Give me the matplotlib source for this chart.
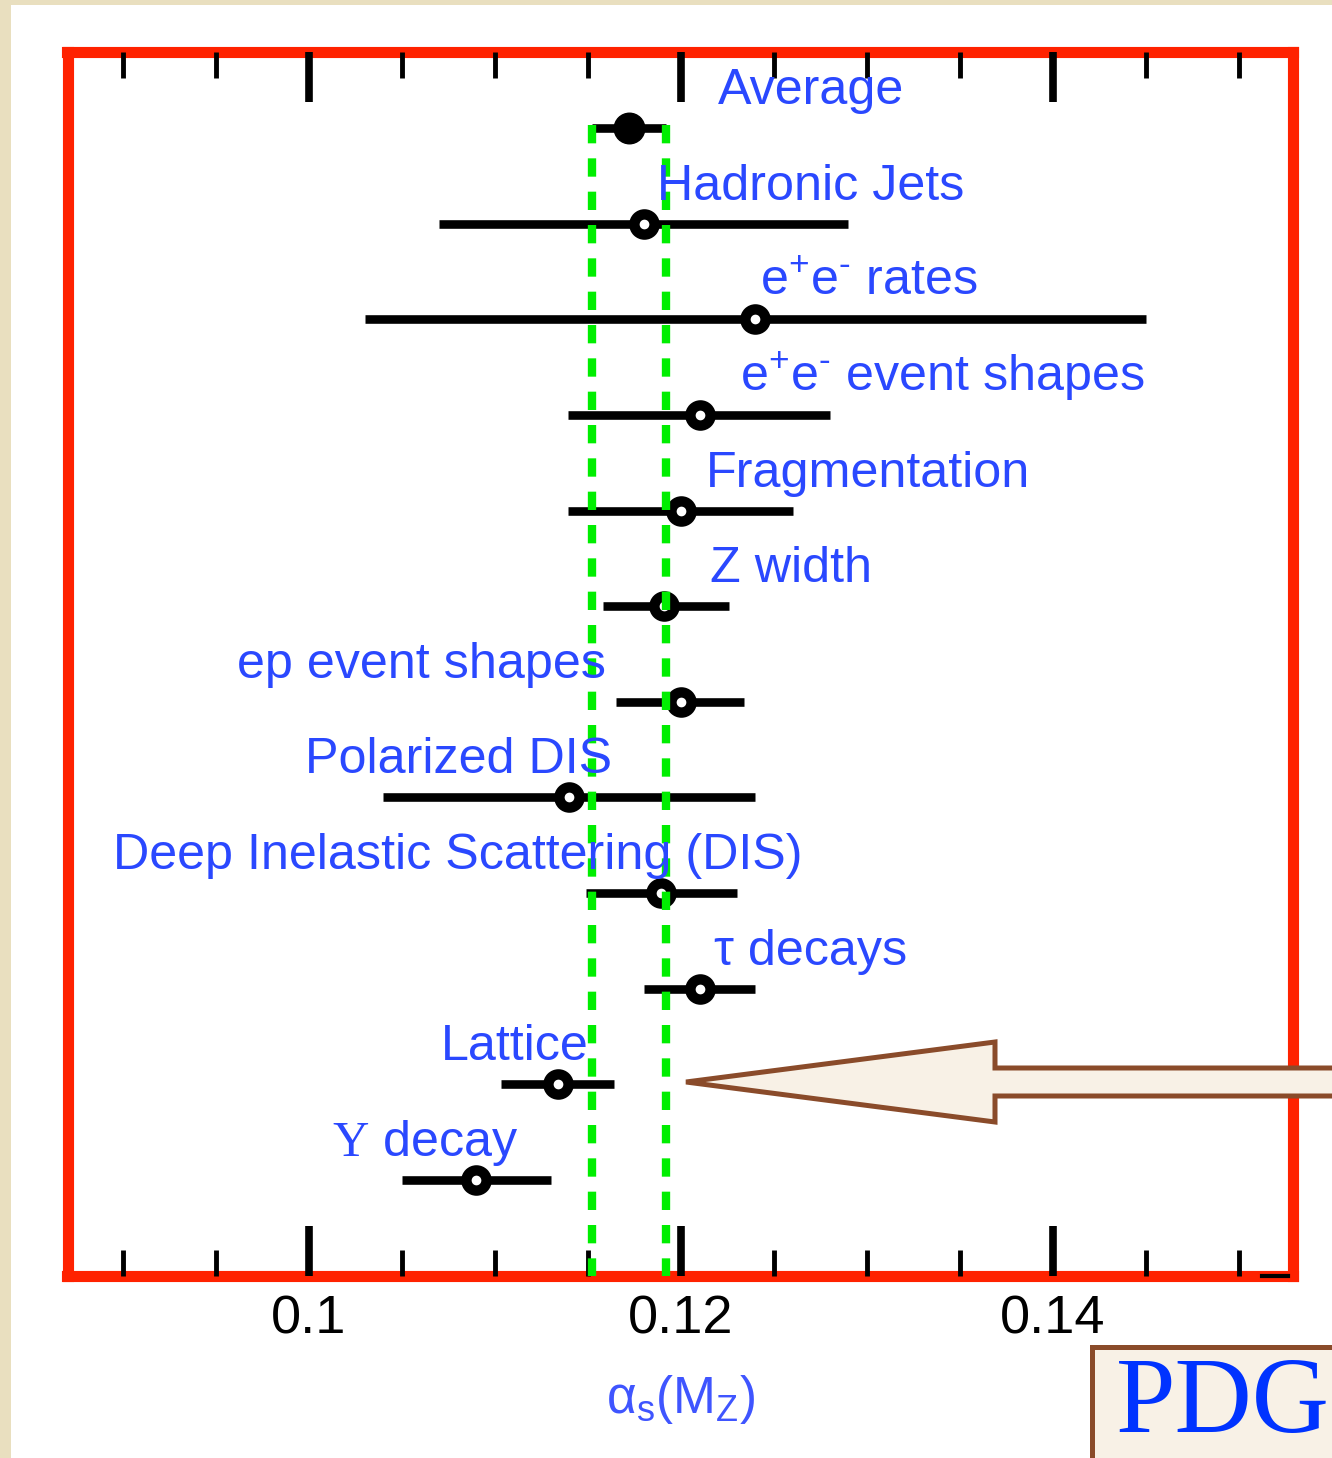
import numpy as np
import matplotlib.pyplot as plt
from matplotlib.patches import Polygon, Rectangle

# alpha_s(M_Z) の測定まとめ
labels = ['Average', 'Hadronic Jets', r'$\mathsf{e^{+}e^{‐}}$ rates',
          r'$\mathsf{e^{+}e^{‐}}$ event shapes', 'Fragmentation', 'Z width',
          'ep event shapes', 'Polarized DIS', 'Deep Inelastic Scattering (DIS)',
          'τ decays', 'Lattice', r'$\mathrm{Υ}$ decay']
central = [0.1172, 0.1180, 0.1240, 0.1210, 0.1200, 0.1191,
           0.1200, 0.1140, 0.1189, 0.1210, 0.1134, 0.1090]
err_lo = [0.1152, 0.1070, 0.1030, 0.1139, 0.1139, 0.1158,
          0.1165, 0.1040, 0.1149, 0.1180, 0.1103, 0.1050]
err_hi = [0.1192, 0.1290, 0.1450, 0.1280, 0.1260, 0.1226,
          0.1234, 0.1240, 0.1230, 0.1240, 0.1164, 0.1130]
# ラベルの左端位置（alpha_s の値）
label_x = [0.12199, 0.11871, 0.12425, 0.12317, 0.12134, 0.12156,
           0.09613, 0.09978, 0.08946, 0.12177, 0.10710, 0.10124]

W, H = 1332, 1458
plt.rcParams['font.family'] = ['Liberation Sans', 'DejaVu Sans']
plt.rcParams['mathtext.fontset'] = 'custom'
plt.rcParams['mathtext.rm'] = 'Liberation Serif'
plt.rcParams['mathtext.sf'] = 'Liberation Sans'
plt.rcParams['mathtext.it'] = 'Liberation Sans:italic'

fig = plt.figure(figsize=(W / 100, H / 100), dpi=100)
fig.patch.set_facecolor('white')

def fpx(x, y):
    return (x / W, 1 - y / H)

# 背景の端（ベージュ）
fig.patches.append(Rectangle((0, 0), 11 / W, 1, transform=fig.transFigure,
                             facecolor='#e9dfbf', edgecolor='none', zorder=0))
fig.patches.append(Rectangle((0, 1 - 5 / H), 1, 5 / H, transform=fig.transFigure,
                             facecolor='#e9dfbf', edgecolor='none', zorder=0))

ax = fig.add_axes([67.5 / W, 1 - 1275.5 / H, (1293 - 67.5) / W, (1275.5 - 51.5) / H])
ax.set_xlim(0.087016, 0.152903)
ax.set_ylim(12.0, -0.80)

red = '#ff2200'
for s in ax.spines.values():
    s.set_color(red)
    s.set_linewidth(8)

y = np.arange(len(labels))
band_lo, band_hi = err_lo[0], err_hi[0]

# 誤差棒
ax.hlines(y, err_lo, err_hi, color='black', linewidth=6.2, zorder=3)
ax.plot(central[1:], y[1:], 'o', ms=14.5, mew=7.5, mfc='white', mec='black', zorder=4)
ax.plot(central[:1], y[:1], 'o', ms=22, mfc='black', mec='black', zorder=4)

# 平均の帯
for xv in (band_lo, band_hi):
    ax.plot([xv, xv], [-0.03, 12.0], color='#00ee00', linewidth=6,
            dashes=(2.2, 1.8), zorder=5, clip_on=False)

blue = '#2a48ff'
for i, (lab, lx) in enumerate(zip(labels, label_x)):
    ax.text(lx, i - 0.25, lab, color=blue, fontsize=36.2, ha='left', va='baseline', zorder=6)

# 目盛り
ax.set_xticks([0.10, 0.12, 0.14])
ax.set_xticklabels(['0.1', '0.12', '0.14'])
ax.set_xticks(np.arange(0.09, 0.1525, 0.005), minor=True)
ax.tick_params(axis='x', which='major', direction='in', top=True, bottom=True,
               length=36, width=5.5, color='black', labelsize=39, pad=14)
ax.tick_params(axis='x', which='minor', direction='in', top=True, bottom=True,
               length=19, width=3.5, color='black')
ax.set_yticks([])
ax.set_axisbelow(False)

# 右下の小さな線
ax.plot([0.15125, 0.15265], [12.0, 12.0], color='black', linewidth=3, zorder=6, clip_on=False)

ax.set_xlabel(r'$\mathsf{α_s(M_Z)}$', color='#3f55ff', fontsize=37, labelpad=20)

# 矢印（Lattice を指す）
arrow_pts = [fpx(686, 1082), fpx(995, 1042), fpx(995, 1068), fpx(1345, 1068),
             fpx(1345, 1096), fpx(995, 1096), fpx(995, 1122)]
fig.patches.append(Polygon(arrow_pts, closed=True, transform=fig.transFigure,
                           facecolor='#f8f1e6', edgecolor='#8a4b2a', linewidth=3.6, zorder=10))

# PDG ボックス
fig.patches.append(Rectangle(fpx(1092, 1470), 300 / W, 123 / H, transform=fig.transFigure,
                             facecolor='#f8f1e6', edgecolor='#8a4b2a', linewidth=3.6, zorder=10))
fig.text(1116 / W, 1 - 1432 / H, 'PDG', family='Liberation Serif', fontsize=77,
         color='#0033ff', ha='left', va='baseline', zorder=11)

fig.savefig('out.png', dpi=100)
